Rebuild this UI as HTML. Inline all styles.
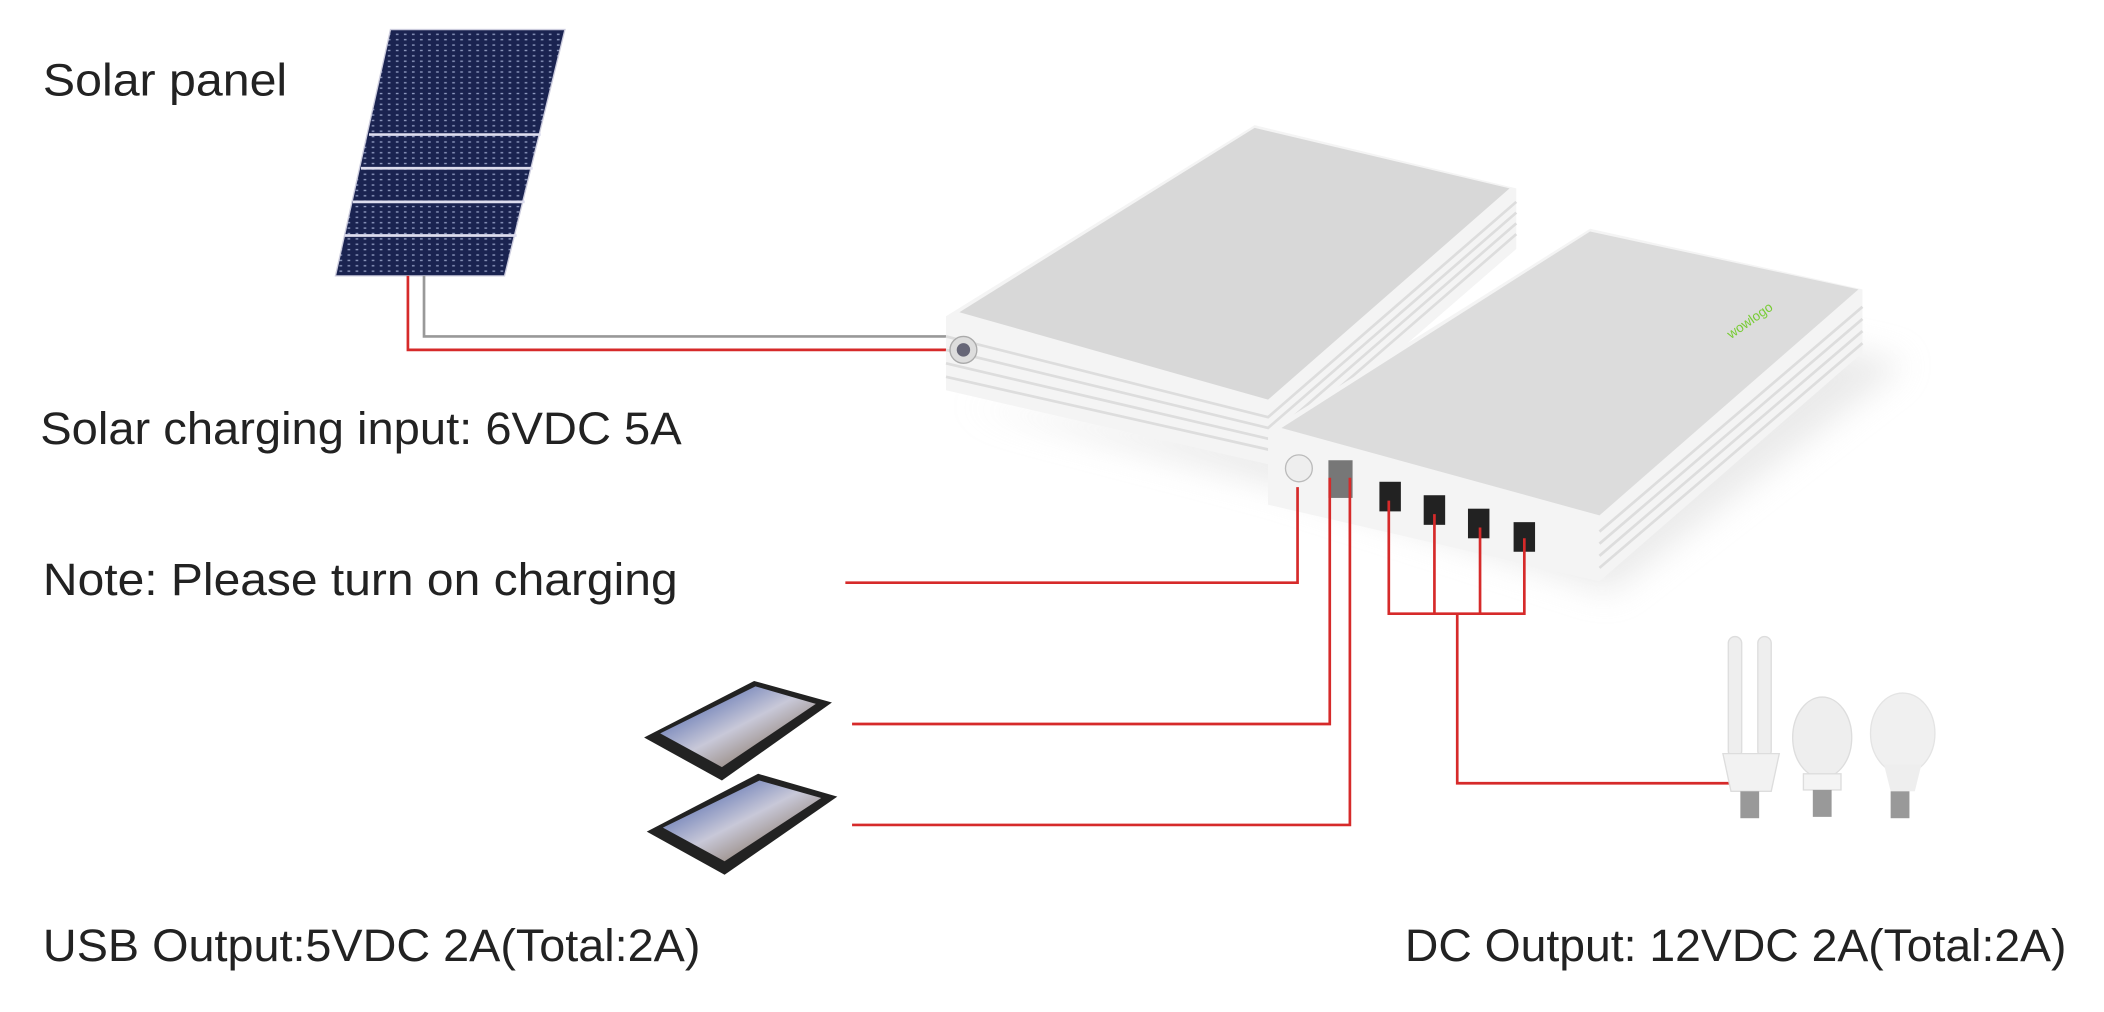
<!DOCTYPE html>
<html><head><meta charset="utf-8"><style>
html,body{margin:0;padding:0;background:#fff;}
svg{display:block;}
text{font-family:"Liberation Sans",sans-serif;fill:#222;font-size:34px;}
</style></head><body>
<svg width="2104" height="1012" viewBox="0 0 1568 752" preserveAspectRatio="none" xmlns="http://www.w3.org/2000/svg">
<defs>
<pattern id="cells" width="6" height="4" patternUnits="userSpaceOnUse">
<rect width="6" height="4" fill="#1a2350"/><rect x="1" y="1" width="2" height="1" fill="#8f9ac0"/>
</pattern>
<linearGradient id="scr" x1="0" y1="0" x2="1" y2="1"><stop offset="0" stop-color="#2c4aa0"/><stop offset="0.5" stop-color="#c8c8d8"/><stop offset="1" stop-color="#6a5030"/></linearGradient>
<filter id="sh" x="-20%" y="-20%" width="140%" height="140%"><feGaussianBlur stdDeviation="12"/></filter>
</defs>
<!-- labels -->
<text x="32" y="71" textLength="182" lengthAdjust="spacingAndGlyphs">Solar panel</text>
<text x="30" y="330" textLength="478" lengthAdjust="spacingAndGlyphs">Solar charging input: 6VDC 5A</text>
<text x="32" y="442" textLength="473" lengthAdjust="spacingAndGlyphs">Note: Please turn on charging</text>
<text x="32" y="714" textLength="490" lengthAdjust="spacingAndGlyphs">USB Output:5VDC 2A(Total:2A)</text>
<text x="1047" y="714" textLength="493" lengthAdjust="spacingAndGlyphs">DC Output: 12VDC 2A(Total:2A)</text>
<!-- solar panel -->
<polygon points="291,22 421,22 376,205 250,205" fill="url(#cells)" stroke="#ccd" stroke-width="1"/>
<g stroke="#dde" stroke-width="2"><line x1="275" y1="100" x2="403" y2="100"/><line x1="269" y1="125" x2="397" y2="125"/><line x1="263" y1="150" x2="391" y2="150"/><line x1="257" y1="175" x2="385" y2="175"/></g>
<!-- wires -->
<polyline points="316,205 316,250 706,250" fill="none" stroke="#999" stroke-width="2"/>
<polyline points="304,205 304,260 706,260" fill="none" stroke="#d62a2a" stroke-width="2"/>
<!-- shadow -->
<polygon points="720,300 950,360 1200,440 1420,270 1200,220 950,330" fill="#ddd" filter="url(#sh)" opacity="0.6"/>
<!-- box 1 -->
<polygon points="705,235 935,93 1130,140 1130,185 945,345 705,290" fill="#f4f4f4"/>
<polygon points="715,232 935,95 1125,140 945,297" fill="#d8d8d8"/>
<g stroke="#ddd" stroke-width="2" fill="none">
<polyline points="705,250 945,310 1130,150"/><polyline points="705,260 945,318 1130,158"/><polyline points="705,270 945,326 1130,166"/><polyline points="705,280 945,334 1130,174"/></g>
<circle cx="718" cy="260" r="10" fill="#ddd" stroke="#aaa"/><circle cx="718" cy="260" r="5" fill="#667"/>
<!-- box 2 -->
<polygon points="945,320 1185,170 1388,215 1388,262 1192,432 945,375" fill="#f4f4f4"/>
<polygon points="955,318 1185,172 1385,215 1192,383" fill="#dcdcdc"/>
<g stroke="#ddd" stroke-width="2" fill="none">
<polyline points="1192,395 1388,228"/><polyline points="1192,404 1388,237"/><polyline points="1192,413 1388,246"/><polyline points="1192,422 1388,255"/></g>
<text x="0" y="0" transform="translate(1290,252) rotate(-35)" style="font-size:10px;fill:#7c3">wowlogo</text>
<circle cx="968" cy="348" r="10" fill="#eee" stroke="#bbb"/>
<rect x="990" y="342" width="18" height="28" fill="#777"/>
<g fill="#222"><rect x="1028" y="358" width="16" height="22"/><rect x="1061" y="368" width="16" height="22"/><rect x="1094" y="378" width="16" height="22"/><rect x="1128" y="388" width="16" height="22"/></g>
<!-- red lines -->
<g fill="none" stroke="#d62a2a" stroke-width="2">
<polyline points="630,433 967,433 967,362"/>
<polyline points="635,538 991,538 991,355"/>
<polyline points="635,613 1006,613 1006,355"/>
<polyline points="1035,372 1035,456 1136,456 1136,400"/>
<line x1="1069" y1="382" x2="1069" y2="456"/><line x1="1103" y1="392" x2="1103" y2="456"/>
<polyline points="1086,456 1086,582 1290,582"/>
</g>
<!-- phones -->
<g>
<polygon points="480,548 562,506 620,522 538,580" fill="#222"/>
<polygon points="492,545 563,510 608,523 538,570" fill="url(#scr)"/>
<polygon points="482,618 565,575 624,592 540,650" fill="#222"/>
<polygon points="494,615 566,580 612,593 540,640" fill="url(#scr)"/>
</g>
<!-- bulbs -->
<g>
<rect x="1288" y="473" width="10" height="90" rx="5" fill="#eee" stroke="#ddd"/>
<rect x="1310" y="473" width="10" height="90" rx="5" fill="#eee" stroke="#ddd"/>
<path d="M1284,560 h42 l-6,28 h-30 z" fill="#f2f2f2" stroke="#ddd"/>
<rect x="1297" y="588" width="14" height="20" fill="#999"/>
<ellipse cx="1358" cy="548" rx="22" ry="30" fill="#eee" stroke="#ddd"/>
<rect x="1344" y="575" width="28" height="12" fill="#f4f4f4" stroke="#ddd"/>
<rect x="1351" y="587" width="14" height="20" fill="#999"/>
<ellipse cx="1418" cy="545" rx="24" ry="30" fill="#f0f0f0" stroke="#e4e4e4"/>
<path d="M1404,568 h28 l-5,20 h-18 z" fill="#eee"/>
<rect x="1409" y="588" width="14" height="20" fill="#999"/>
</g>
</svg>
</body></html>
